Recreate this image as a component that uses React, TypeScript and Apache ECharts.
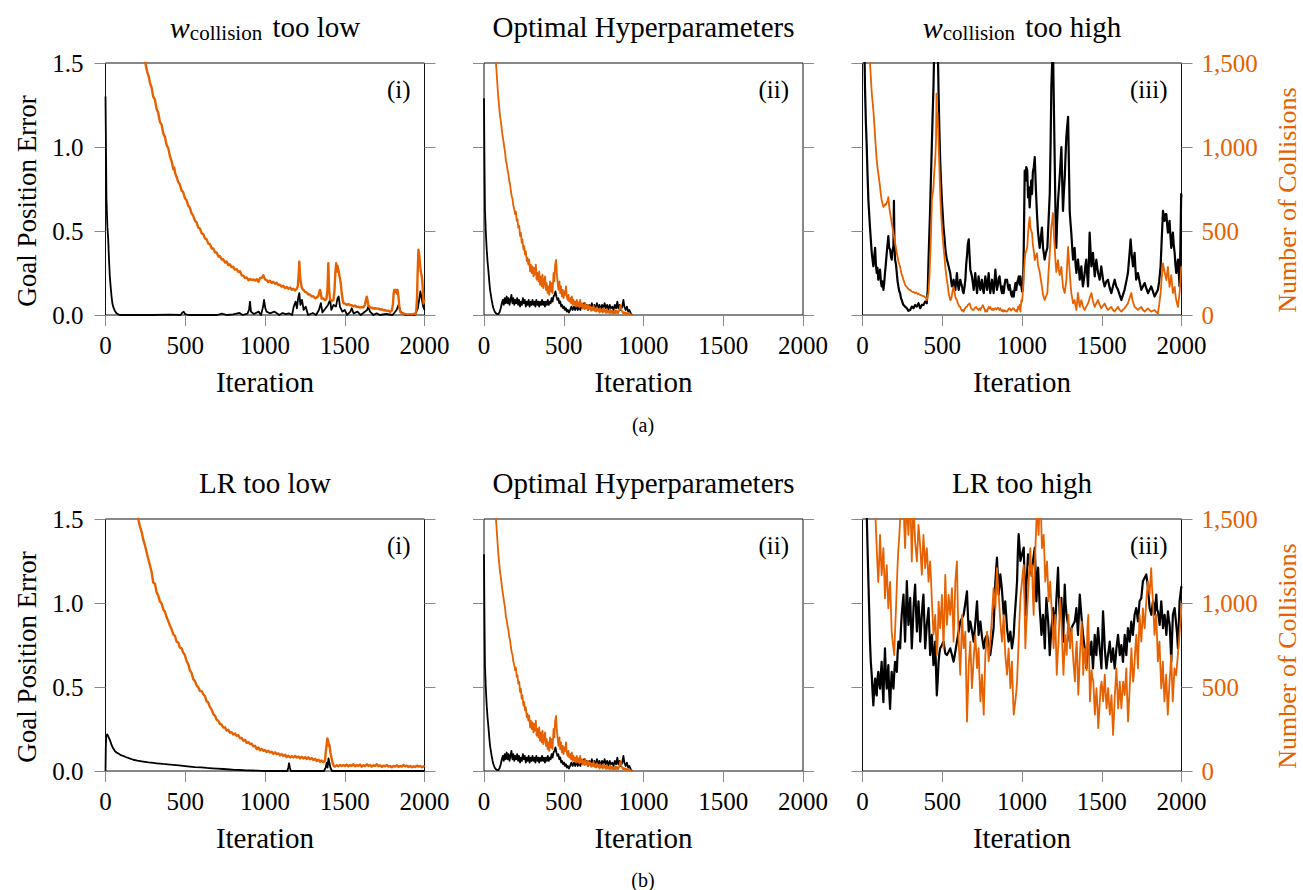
import React, { useEffect, useRef } from "react";
import * as echarts from "echarts";

const FONT = "Liberation Serif";
const ORANGE = "#e66100";

type Pt = [number, number];

// ---------- (a)(i)  w_collision too low ----------
const errLowW: Pt[] = [[0,1.30],[6,0.69],[12,0.52],[17,0.45],[22,0.33],[27,0.23],[33,0.16],[38,0.11],[43,0.07],[48,0.05],[58,0.025],[69,0.01],[80,0.004],[90,0.0],[200,0.0],[300,0.0],[400,0.002],[470,0.0],[480,0.012],[490,0.02],[500,0.005],[520,0.0],[600,0.0],[700,0.0],[730,0.008],[760,0.0],[800,0.004],[840,0.012],[860,0.0],[890,0.008],[900,0.03],[906,0.08],[912,0.02],[930,0.006],[960,0.02],[975,0.0],[988,0.05],[994,0.09],[1002,0.04],[1010,0.02],[1030,0.01],[1060,0.02],[1090,0.0],[1110,0.012],[1130,0.005],[1150,0.01],[1170,0.0],[1180,0.05],[1192,0.08],[1200,0.04],[1208,0.1],[1215,0.13],[1222,0.06],[1232,0.09],[1242,0.03],[1255,0.05],[1270,0.0],[1300,0.012],[1320,0.0],[1338,0.03],[1350,0.07],[1360,0.015],[1380,0.04],[1395,0.06],[1408,0.09],[1416,0.03],[1430,0.06],[1445,0.05],[1455,0.1],[1462,0.11],[1470,0.05],[1485,0.02],[1500,0.03],[1515,0.0],[1535,0.02],[1544,0.04],[1555,0.01],[1580,0.02],[1600,0.0],[1640,0.03],[1648,0.05],[1658,0.02],[1680,0.0],[1700,0.01],[1720,0.0],[1760,0.006],[1800,0.0],[1825,0.03],[1837,0.06],[1850,0.02],[1880,0.0],[1940,0.0],[1958,0.04],[1968,0.1],[1974,0.14],[1982,0.1],[1992,0.05],[2000,0.03]];
const collLowW: Pt[] = [[0,3200],[120,2400],[200,1800],[240,1540],[252,1490],[262,1445],[271,1420],[280,1378],[290,1350],[299,1300],[310,1282],[320,1228],[330,1205],[341,1150],[352,1132],[362,1080],[372,1062],[383,1012],[393,995],[404,945],[414,918],[425,868],[431,878],[437,842],[446,822],[456,790],[466,778],[477,740],[487,732],[498,695],[508,684],[519,650],[529,638],[540,604],[550,592],[561,560],[571,552],[582,520],[592,515],[603,486],[613,482],[624,455],[634,450],[645,425],[655,422],[666,396],[676,396],[687,372],[697,372],[708,348],[718,350],[728,330],[738,332],[750,312],[760,318],[770,296],[780,302],[790,285],[800,288],[811,270],[822,273],[833,256],[843,260],[854,236],[864,234],[875,220],[885,224],[896,207],[906,214],[917,208],[927,212],[938,205],[948,214],[959,198],[969,220],[980,222],[990,236],[1000,212],[1010,208],[1020,196],[1031,204],[1042,190],[1052,198],[1063,186],[1073,192],[1084,178],[1094,180],[1105,168],[1115,174],[1126,160],[1136,167],[1147,156],[1157,163],[1168,150],[1178,156],[1188,146],[1198,154],[1206,172],[1212,255],[1215,318],[1219,250],[1224,195],[1230,165],[1236,152],[1241,150],[1251,137],[1262,133],[1272,122],[1282,122],[1293,110],[1303,112],[1314,100],[1324,104],[1334,112],[1340,135],[1345,149],[1350,128],[1355,98],[1366,98],[1376,88],[1385,95],[1392,155],[1397,308],[1402,148],[1408,92],[1418,84],[1429,88],[1436,150],[1441,252],[1446,308],[1451,258],[1455,292],[1460,268],[1466,238],[1471,212],[1475,189],[1481,128],[1487,92],[1492,70],[1502,68],[1512,60],[1523,66],[1533,58],[1544,58],[1554,52],[1565,55],[1575,48],[1585,50],[1596,44],[1606,47],[1617,46],[1627,62],[1633,92],[1638,109],[1643,88],[1648,58],[1659,44],[1670,44],[1680,38],[1690,40],[1701,38],[1711,38],[1722,32],[1732,34],[1743,28],[1753,30],[1764,24],[1774,26],[1785,18],[1795,26],[1802,62],[1806,122],[1810,149],[1815,138],[1820,150],[1826,128],[1831,149],[1837,108],[1843,40],[1848,20],[1858,10],[1868,8],[1879,6],[1889,4],[1900,4],[1910,5],[1920,4],[1931,6],[1941,5],[1948,20],[1953,100],[1957,250],[1962,388],[1967,358],[1972,300],[1978,252],[1983,229],[1988,178],[1994,70],[2000,92]];

// ---------- (ii) optimal hyperparameters (same run in (a) and (b)) ----------
const errOpt: Pt[] = [[0,1.29],[3,0.9],[6,0.63],[11,0.5],[17,0.39],[22,0.32],[27,0.27],[33,0.2],[38,0.15],[43,0.12],[48,0.09],[54,0.06],[59,0.04],[65,0.025],[70,0.015],[75,0.01],[82,0.006],[90,0.006],[97,0.015],[105,0.04],[112,0.07],[118,0.09],[124,0.06],[130,0.1],[136,0.07],[142,0.11],[148,0.07],[154,0.1],[160,0.06],[166,0.09],[172,0.12],[178,0.07],[184,0.1],[190,0.06],[196,0.09],[202,0.07],[208,0.1],[214,0.06],[220,0.09],[226,0.05],[232,0.08],[238,0.06],[244,0.1],[250,0.07],[256,0.09],[262,0.05],[268,0.08],[274,0.06],[280,0.09],[286,0.05],[292,0.08],[298,0.06],[304,0.09],[310,0.06],[316,0.08],[322,0.05],[328,0.09],[334,0.06],[340,0.08],[346,0.05],[352,0.08],[358,0.06],[364,0.09],[370,0.06],[376,0.08],[382,0.05],[388,0.08],[394,0.06],[400,0.09],[406,0.06],[412,0.08],[418,0.07],[424,0.1],[430,0.08],[436,0.11],[442,0.12],[448,0.14],[454,0.11],[460,0.09],[466,0.1],[472,0.07],[478,0.08],[484,0.05],[490,0.06],[496,0.04],[502,0.05],[508,0.03],[514,0.04],[520,0.02],[526,0.03],[532,0.015],[540,0.03],[548,0.05],[556,0.03],[564,0.05],[572,0.03],[580,0.06],[588,0.03],[596,0.05],[604,0.03],[612,0.06],[620,0.04],[628,0.07],[636,0.04],[644,0.06],[652,0.03],[660,0.06],[668,0.04],[676,0.07],[684,0.04],[692,0.06],[700,0.03],[708,0.07],[716,0.04],[724,0.06],[732,0.03],[740,0.06],[748,0.04],[756,0.07],[764,0.04],[772,0.06],[780,0.03],[788,0.06],[796,0.04],[804,0.05],[812,0.03],[820,0.06],[828,0.04],[836,0.08],[842,0.04],[850,0.06],[858,0.03],[866,0.05],[874,0.09],[880,0.05],[888,0.03],[896,0.05],[904,0.02],[912,0.03],[920,0.01],[928,0.0]];
const collOpt: Pt[] = [[0,3000],[40,2100],[70,1600],[75,1500],[82,1400],[90,1290],[95,1240],[100,1190],[106,1150],[111,1110],[116,1070],[121,1040],[127,1000],[132,970],[137,920],[142,900],[148,860],[153,840],[158,800],[163,780],[169,735],[174,706],[179,690],[184,650],[190,630],[195,600],[200,615],[205,560],[210,570],[215,520],[221,530],[226,470],[231,490],[236,430],[241,450],[247,390],[252,410],[257,360],[262,380],[268,320],[273,340],[278,300],[283,330],[289,260],[294,300],[299,250],[304,290],[310,230],[315,280],[320,240],[325,300],[330,210],[336,250],[341,200],[346,260],[351,180],[357,230],[362,170],[367,240],[372,160],[378,200],[383,230],[388,150],[393,190],[399,130],[404,170],[409,120],[414,200],[420,140],[425,190],[430,130],[436,250],[441,200],[446,300],[452,328],[457,240],[462,190],[467,150],[473,200],[478,130],[483,170],[488,110],[494,150],[499,100],[504,140],[509,120],[514,170],[519,110],[525,90],[530,120],[535,80],[540,100],[546,70],[551,110],[556,60],[562,90],[567,60],[572,80],[577,50],[582,90],[588,55],[593,75],[598,45],[603,90],[609,50],[614,70],[619,40],[624,60],[630,35],[635,70],[640,40],[645,55],[651,30],[656,60],[661,35],[666,50],[672,25],[677,45],[682,30],[687,55],[693,25],[698,40],[703,20],[708,45],[714,25],[719,35],[724,15],[729,40],[735,20],[740,30],[745,15],[750,40],[756,20],[761,30],[766,12],[771,35],[777,15],[782,25],[787,10],[792,30],[798,12],[803,25],[808,10],[813,20],[819,8],[824,28],[829,12],[834,25],[840,10],[845,20],[850,35],[856,60],[861,30],[866,20],[872,10],[877,18],[882,8],[888,15],[893,5],[898,12],[904,4],[909,8],[914,3],[920,5],[925,2],[930,0]];

// ---------- (a)(iii) w_collision too high ----------
const errHighW: Pt[] = [[0,2.2],[10,1.7],[16,1.34],[21,1.15],[26,1.02],[31,0.85],[37,0.68],[42,0.6],[47,0.52],[52,0.45],[58,0.37],[63,0.33],[68,0.29],[74,0.35],[79,0.40],[84,0.3],[89,0.25],[94,0.28],[99,0.21],[105,0.24],[110,0.27],[115,0.2],[120,0.17],[126,0.2],[131,0.15],[136,0.19],[141,0.25],[146,0.3],[152,0.37],[157,0.42],[162,0.47],[167,0.4],[173,0.39],[178,0.35],[183,0.33],[188,0.38],[194,0.41],[197,0.68],[200,0.45],[204,0.33],[210,0.3],[215,0.25],[220,0.2],[225,0.17],[231,0.14],[236,0.13],[241,0.1],[246,0.09],[252,0.07],[257,0.06],[267,0.05],[278,0.04],[288,0.025],[299,0.03],[309,0.05],[320,0.04],[330,0.06],[341,0.05],[351,0.07],[362,0.04],[372,0.06],[382,0.06],[393,0.08],[403,0.07],[409,0.15],[414,0.33],[419,0.48],[424,0.63],[430,0.85],[435,1.02],[440,1.2],[445,1.36],[450,1.6],[456,1.8],[461,1.7],[466,1.9],[472,1.6],[477,1.32],[482,1.1],[487,0.92],[492,0.8],[498,0.68],[503,0.6],[508,0.52],[514,0.46],[519,0.4],[524,0.36],[529,0.33],[535,0.31],[540,0.29],[545,0.27],[550,0.25],[556,0.2],[561,0.17],[566,0.19],[571,0.21],[576,0.18],[582,0.15],[587,0.2],[592,0.25],[597,0.19],[603,0.15],[608,0.18],[613,0.21],[618,0.19],[624,0.17],[629,0.14],[634,0.13],[640,0.17],[645,0.21],[650,0.3],[655,0.35],[660,0.42],[666,0.45],[671,0.36],[676,0.27],[681,0.25],[686,0.23],[692,0.19],[697,0.15],[702,0.2],[707,0.25],[713,0.18],[718,0.13],[723,0.18],[728,0.23],[733,0.19],[739,0.15],[744,0.18],[749,0.21],[754,0.16],[760,0.13],[765,0.18],[770,0.23],[775,0.19],[781,0.15],[786,0.2],[791,0.25],[796,0.18],[801,0.13],[807,0.17],[812,0.21],[817,0.17],[822,0.13],[828,0.2],[833,0.27],[838,0.2],[843,0.15],[849,0.18],[854,0.22],[859,0.23],[864,0.19],[870,0.15],[875,0.13],[880,0.17],[885,0.13],[891,0.18],[896,0.21],[901,0.2],[906,0.21],[912,0.17],[917,0.15],[922,0.18],[927,0.15],[933,0.12],[938,0.11],[943,0.14],[948,0.11],[954,0.16],[959,0.19],[964,0.15],[969,0.19],[975,0.21],[980,0.23],[985,0.18],[990,0.23],[996,0.17],[1001,0.14],[1006,0.15],[1011,0.4],[1017,0.86],[1022,0.8],[1027,0.88],[1033,0.86],[1038,0.7],[1043,0.76],[1048,0.64],[1053,0.72],[1058,0.8],[1063,0.72],[1068,0.85],[1074,0.88],[1080,0.94],[1087,0.75],[1094,0.6],[1100,0.5],[1105,0.45],[1111,0.40],[1118,0.46],[1125,0.52],[1132,0.4],[1142,0.33],[1150,0.37],[1159,0.40],[1166,0.55],[1174,0.72],[1179,1.0],[1184,1.36],[1189,1.5],[1194,1.62],[1199,1.3],[1205,0.92],[1210,0.6],[1215,0.40],[1220,0.55],[1226,0.68],[1231,0.75],[1236,0.82],[1241,0.9],[1247,1.0],[1252,0.8],[1257,0.62],[1262,0.72],[1268,0.82],[1273,0.95],[1278,1.06],[1283,1.12],[1289,1.18],[1294,0.9],[1299,0.62],[1304,0.55],[1309,0.49],[1315,0.4],[1320,0.33],[1325,0.36],[1330,0.40],[1336,0.3],[1341,0.25],[1346,0.3],[1351,0.33],[1357,0.27],[1362,0.21],[1367,0.25],[1372,0.29],[1377,0.22],[1382,0.17],[1388,0.21],[1393,0.25],[1398,0.3],[1403,0.33],[1408,0.25],[1414,0.17],[1419,0.3],[1424,0.49],[1430,0.38],[1435,0.29],[1440,0.33],[1445,0.37],[1450,0.3],[1456,0.23],[1461,0.28],[1466,0.33],[1471,0.29],[1477,0.25],[1482,0.23],[1487,0.21],[1492,0.25],[1497,0.29],[1508,0.21],[1518,0.17],[1529,0.2],[1539,0.21],[1550,0.16],[1560,0.13],[1570,0.17],[1581,0.21],[1591,0.17],[1602,0.15],[1612,0.12],[1623,0.09],[1633,0.12],[1643,0.15],[1654,0.2],[1664,0.25],[1673,0.35],[1681,0.45],[1688,0.36],[1696,0.29],[1701,0.33],[1706,0.37],[1711,0.28],[1716,0.21],[1722,0.23],[1727,0.25],[1737,0.2],[1748,0.15],[1758,0.17],[1769,0.19],[1779,0.16],[1790,0.13],[1800,0.15],[1810,0.17],[1821,0.14],[1831,0.11],[1841,0.13],[1852,0.15],[1860,0.2],[1869,0.29],[1876,0.45],[1884,0.62],[1889,0.58],[1894,0.56],[1900,0.6],[1905,0.6],[1910,0.54],[1915,0.49],[1920,0.53],[1925,0.56],[1930,0.48],[1936,0.40],[1941,0.45],[1946,0.49],[1951,0.42],[1957,0.37],[1962,0.3],[1967,0.25],[1972,0.29],[1978,0.33],[1983,0.25],[1988,0.17],[1993,0.4],[1998,0.72],[2000,0.7]];
const collHighW: Pt[] = [[0,3500],[30,2000],[47,1500],[52,1420],[58,1321],[63,1270],[68,1220],[74,1140],[79,1060],[84,990],[89,923],[94,880],[99,845],[105,800],[110,762],[115,720],[120,685],[126,660],[131,643],[136,650],[141,660],[146,655],[152,667],[157,680],[162,702],[167,650],[173,607],[178,580],[183,550],[188,520],[194,488],[199,460],[204,430],[210,400],[215,369],[220,345],[225,320],[231,300],[236,286],[241,260],[246,240],[252,225],[257,208],[262,195],[267,180],[272,172],[278,167],[283,160],[288,155],[293,150],[299,149],[304,145],[309,140],[315,138],[320,137],[325,135],[330,130],[336,133],[341,131],[346,125],[351,128],[357,122],[362,120],[367,118],[372,115],[377,114],[382,113],[388,110],[393,105],[398,100],[403,89],[408,110],[414,131],[419,220],[424,327],[430,500],[435,685],[440,720],[445,762],[450,850],[456,923],[461,1050],[464,1317],[466,1119],[471,1200],[477,1024],[482,880],[487,726],[492,620],[498,524],[503,460],[508,405],[514,345],[519,286],[524,245],[529,208],[535,170],[540,131],[545,110],[550,89],[556,95],[561,120],[566,150],[571,167],[576,140],[582,110],[587,95],[592,89],[597,70],[603,60],[608,50],[613,48],[618,35],[624,25],[629,30],[634,20],[640,35],[645,42],[650,48],[655,50],[660,60],[666,65],[671,69],[676,55],[681,40],[686,35],[692,30],[697,30],[702,40],[707,45],[713,48],[718,40],[723,35],[728,30],[733,38],[739,30],[744,42],[749,50],[754,59],[760,45],[765,35],[770,20],[775,28],[781,20],[786,35],[791,48],[796,40],[801,48],[807,35],[812,30],[817,38],[822,30],[828,36],[833,40],[838,32],[843,38],[849,44],[854,36],[859,30],[864,40],[870,28],[875,22],[880,30],[885,20],[891,28],[896,24],[901,20],[906,20],[912,30],[917,38],[922,40],[927,32],[933,26],[938,34],[943,40],[948,40],[954,30],[959,24],[964,30],[969,20],[975,48],[980,36],[985,60],[990,20],[996,89],[1001,80],[1006,150],[1011,240],[1017,327],[1022,370],[1027,380],[1033,405],[1038,480],[1043,540],[1048,583],[1053,520],[1058,500],[1063,488],[1068,420],[1074,380],[1080,327],[1087,350],[1094,367],[1100,300],[1105,280],[1111,256],[1118,210],[1125,167],[1132,120],[1142,89],[1150,110],[1159,131],[1166,250],[1174,367],[1179,450],[1184,524],[1189,560],[1194,607],[1199,500],[1205,405],[1210,320],[1215,256],[1220,290],[1226,327],[1231,270],[1236,237],[1241,260],[1247,286],[1252,220],[1257,167],[1262,150],[1268,131],[1273,170],[1278,208],[1283,300],[1289,405],[1294,330],[1299,256],[1304,190],[1309,131],[1315,100],[1320,69],[1325,80],[1330,89],[1336,55],[1341,30],[1346,80],[1351,131],[1357,80],[1362,48],[1367,70],[1372,89],[1382,50],[1393,30],[1403,50],[1414,69],[1424,100],[1435,131],[1445,80],[1456,48],[1466,70],[1477,89],[1487,60],[1497,40],[1508,55],[1518,69],[1529,45],[1539,30],[1550,40],[1560,48],[1570,30],[1581,20],[1591,35],[1602,48],[1612,30],[1623,20],[1633,30],[1643,40],[1654,55],[1664,69],[1674,100],[1685,131],[1695,80],[1706,48],[1716,40],[1727,30],[1737,40],[1748,48],[1758,30],[1769,20],[1779,30],[1790,40],[1800,28],[1810,20],[1821,25],[1831,30],[1841,18],[1852,10],[1860,60],[1869,131],[1876,220],[1884,307],[1889,280],[1894,256],[1900,230],[1905,208],[1910,250],[1915,286],[1920,220],[1925,167],[1930,200],[1936,237],[1941,180],[1946,131],[1951,150],[1957,167],[1962,120],[1967,89],[1972,70],[1978,48],[1983,90],[1988,131],[1993,200],[1998,286],[2000,280]];

// ---------- (b)(i) LR too low ----------
const errLowLR: Pt[] = [[0,0.0],[2,0.15],[5,0.21],[10,0.218],[16,0.21],[22,0.195],[27,0.185],[33,0.17],[38,0.155],[43,0.145],[48,0.135],[58,0.12],[69,0.11],[79,0.105],[90,0.098],[100,0.093],[111,0.09],[130,0.082],[150,0.075],[174,0.067],[200,0.062],[236,0.056],[270,0.051],[300,0.048],[320,0.046],[360,0.042],[390,0.040],[425,0.037],[460,0.033],[500,0.029],[529,0.026],[560,0.023],[600,0.021],[634,0.018],[670,0.016],[700,0.014],[738,0.012],[780,0.009],[810,0.007],[843,0.006],[880,0.004],[920,0.003],[948,0.002],[980,0.001],[1000,0.0],[1140,0.0],[1146,0.02],[1151,0.046],[1156,0.02],[1162,0.0],[1370,0.0],[1380,0.02],[1387,0.05],[1392,0.02],[1398,0.075],[1404,0.05],[1410,0.02],[1420,0.0],[2000,0.0]];
const collLowLR: Pt[] = [[0,3400],[100,2300],[180,1700],[205,1500],[215,1460],[226,1425],[236,1380],[247,1345],[257,1305],[268,1262],[278,1226],[289,1186],[299,1122],[310,1115],[320,1065],[331,1044],[341,1010],[352,996],[362,962],[372,950],[383,915],[393,894],[404,865],[414,845],[425,814],[435,805],[446,770],[456,765],[466,735],[477,730],[487,705],[498,690],[508,655],[519,636],[529,600],[540,583],[550,547],[561,535],[571,510],[582,497],[592,477],[603,475],[613,457],[624,445],[634,415],[644,408],[655,380],[665,367],[676,338],[686,330],[697,305],[707,299],[718,279],[728,277],[738,259],[749,260],[759,241],[770,245],[780,229],[791,231],[801,217],[812,223],[822,209],[833,213],[843,195],[854,197],[864,180],[875,185],[885,167],[896,173],[906,160],[917,163],[927,147],[938,150],[948,130],[959,140],[969,123],[980,131],[990,120],[1000,125],[1010,113],[1021,121],[1031,110],[1042,115],[1052,103],[1063,111],[1073,100],[1084,105],[1094,93],[1105,101],[1115,90],[1126,97],[1136,83],[1147,91],[1157,80],[1168,89],[1178,81],[1189,90],[1199,80],[1210,87],[1220,75],[1231,85],[1241,74],[1252,83],[1262,72],[1272,81],[1282,70],[1293,77],[1303,65],[1314,73],[1324,60],[1335,67],[1345,55],[1356,63],[1366,52],[1376,62],[1382,120],[1387,160],[1391,194],[1396,180],[1400,150],[1404,155],[1410,110],[1418,75],[1425,45],[1432,30],[1439,26],[1450,34],[1460,28],[1471,36],[1481,30],[1492,36],[1502,30],[1512,38],[1523,28],[1533,36],[1544,30],[1554,40],[1565,28],[1575,36],[1585,30],[1596,38],[1606,26],[1617,34],[1627,28],[1638,40],[1648,30],[1659,36],[1669,26],[1680,34],[1690,30],[1701,40],[1711,28],[1722,34],[1732,24],[1743,32],[1753,28],[1764,36],[1774,26],[1785,30],[1795,22],[1806,30],[1816,26],[1827,34],[1837,24],[1848,30],[1858,26],[1869,36],[1879,28],[1890,32],[1900,24],[1911,30],[1921,22],[1932,28],[1942,24],[1953,32],[1963,26],[1974,30],[1984,22],[1995,28],[2000,24]];

// ---------- (b)(iii) LR too high ----------
const errHighLR: Pt[] = [[0,2.5],[15,1.9],[26,1.55],[31,1.35],[37,1.13],[42,0.95],[47,0.77],[52,0.65],[58,0.57],[63,0.47],[68,0.39],[74,0.5],[79,0.55],[84,0.47],[89,0.45],[94,0.55],[99,0.59],[105,0.52],[110,0.49],[115,0.58],[120,0.65],[126,0.5],[131,0.41],[136,0.6],[141,0.73],[146,0.58],[152,0.49],[157,0.57],[162,0.63],[167,0.48],[173,0.37],[178,0.5],[183,0.59],[188,0.53],[194,0.49],[199,0.58],[204,0.65],[210,0.62],[215,0.59],[220,0.7],[225,0.77],[231,0.75],[236,0.73],[241,0.85],[246,0.93],[252,1.0],[257,1.05],[262,0.9],[267,0.77],[273,0.95],[278,1.13],[283,1.0],[288,0.87],[294,0.95],[299,1.03],[304,0.88],[309,0.73],[315,0.85],[320,0.97],[325,1.05],[330,1.11],[336,0.95],[341,0.83],[346,0.92],[351,1.01],[357,0.9],[362,0.77],[367,0.85],[372,0.93],[377,1.0],[382,1.05],[388,0.88],[393,0.73],[398,0.8],[403,0.87],[409,0.92],[414,0.97],[419,0.83],[424,0.69],[430,0.75],[435,0.81],[440,0.72],[445,0.63],[451,0.7],[456,0.77],[461,0.6],[466,0.45],[472,0.55],[477,0.65],[482,0.7],[487,0.73],[498,0.75],[508,0.77],[519,0.7],[529,0.69],[540,0.71],[550,0.73],[561,0.69],[571,0.65],[582,0.71],[592,0.77],[603,0.83],[613,0.89],[624,0.91],[634,0.93],[645,1.0],[655,1.07],[660,0.95],[666,0.83],[671,0.86],[676,0.89],[687,0.83],[697,0.77],[708,0.89],[718,1.01],[723,0.9],[728,0.81],[733,0.85],[739,0.89],[749,0.8],[760,0.73],[770,0.79],[781,0.81],[791,0.75],[801,0.69],[812,0.77],[822,0.85],[828,1.0],[833,1.13],[838,1.2],[843,1.27],[849,1.15],[854,1.05],[859,1.11],[864,1.17],[870,1.12],[875,1.07],[880,1.0],[885,0.93],[890,0.97],[895,1.01],[901,0.93],[906,0.85],[911,0.81],[916,0.77],[922,0.8],[927,0.83],[932,0.78],[937,0.73],[943,0.77],[948,0.81],[953,0.9],[958,0.97],[964,1.05],[969,1.13],[974,1.3],[979,1.41],[985,1.33],[990,1.25],[1000,1.29],[1011,1.33],[1017,1.1],[1022,0.93],[1027,1.1],[1038,1.29],[1048,1.23],[1059,1.17],[1069,1.25],[1080,1.33],[1085,1.2],[1090,1.01],[1095,1.1],[1101,1.21],[1106,1.1],[1111,0.97],[1116,0.9],[1122,0.81],[1127,0.87],[1132,0.93],[1138,0.83],[1143,0.73],[1148,0.9],[1153,1.03],[1159,0.95],[1164,0.89],[1169,0.8],[1174,0.69],[1179,0.77],[1184,0.85],[1190,0.9],[1195,0.97],[1200,0.9],[1205,0.83],[1211,0.93],[1216,1.03],[1221,1.12],[1226,1.21],[1231,1.05],[1237,0.93],[1242,0.98],[1247,1.03],[1252,0.9],[1258,0.77],[1263,0.95],[1268,1.11],[1273,1.0],[1279,0.93],[1284,0.9],[1289,0.87],[1294,0.82],[1299,0.77],[1305,0.81],[1310,0.85],[1320,0.87],[1331,0.89],[1336,0.93],[1341,0.97],[1346,0.89],[1351,0.81],[1357,0.93],[1362,1.05],[1367,0.99],[1372,0.93],[1377,0.87],[1383,0.81],[1388,0.77],[1393,0.73],[1398,0.67],[1404,0.61],[1409,0.69],[1414,0.77],[1420,0.73],[1425,0.69],[1430,0.73],[1435,0.77],[1440,0.69],[1445,0.61],[1451,0.71],[1456,0.81],[1461,0.75],[1466,0.69],[1471,0.77],[1477,0.85],[1482,0.79],[1487,0.73],[1493,0.67],[1498,0.61],[1503,0.78],[1508,0.95],[1514,0.84],[1519,0.73],[1524,0.67],[1529,0.61],[1534,0.65],[1539,0.69],[1545,0.73],[1550,0.77],[1555,0.71],[1560,0.65],[1566,0.69],[1571,0.73],[1576,0.67],[1581,0.61],[1587,0.67],[1592,0.73],[1597,0.77],[1602,0.81],[1608,0.75],[1613,0.69],[1618,0.72],[1623,0.75],[1628,0.7],[1633,0.65],[1639,0.73],[1644,0.81],[1649,0.75],[1654,0.69],[1659,0.77],[1664,0.85],[1670,0.81],[1675,0.77],[1680,0.83],[1685,0.89],[1690,0.85],[1695,0.81],[1701,0.87],[1706,0.93],[1711,0.95],[1716,0.97],[1722,0.93],[1727,0.89],[1732,0.95],[1737,1.01],[1743,1.02],[1748,1.03],[1753,1.08],[1758,1.13],[1764,1.14],[1769,1.15],[1774,1.16],[1779,1.17],[1785,1.13],[1790,1.09],[1795,1.03],[1800,0.97],[1806,0.95],[1811,0.93],[1816,0.97],[1821,1.01],[1827,0.98],[1832,0.93],[1837,0.99],[1842,1.05],[1847,0.96],[1852,0.95],[1858,0.91],[1863,0.87],[1868,0.94],[1873,1.01],[1879,0.93],[1884,0.85],[1889,0.89],[1894,0.93],[1900,0.87],[1905,0.81],[1910,0.88],[1915,0.95],[1921,0.9],[1926,0.87],[1931,0.76],[1936,0.65],[1941,0.8],[1946,0.93],[1951,0.95],[1957,0.97],[1962,0.92],[1967,0.87],[1972,0.82],[1978,0.73],[1983,0.87],[1988,1.01],[1993,1.05],[1998,1.09],[2000,1.1]];
const collHighLR: Pt[] = [[0,3500],[60,2200],[79,1600],[84,1450],[89,1327],[94,1220],[99,1125],[105,1260],[110,1405],[115,1280],[120,1165],[126,1250],[131,1327],[136,1180],[141,1028],[146,1130],[152,1226],[157,1090],[162,968],[167,1050],[173,1125],[178,980],[183,829],[188,780],[194,732],[199,690],[204,830],[210,968],[215,1100],[220,1226],[225,1320],[231,1405],[236,1500],[241,1600],[246,1650],[252,1580],[257,1620],[262,1450],[267,1327],[273,1500],[278,1620],[283,1500],[288,1405],[294,1560],[299,1640],[304,1450],[309,1247],[315,1450],[320,1600],[325,1480],[330,1365],[336,1300],[341,1247],[346,1350],[351,1465],[357,1400],[362,1327],[367,1250],[372,1168],[377,1290],[382,1405],[388,1300],[393,1207],[398,1270],[403,1327],[409,1230],[414,1127],[419,1190],[424,1247],[430,1130],[435,1010],[440,910],[445,812],[451,870],[456,929],[461,810],[466,690],[472,790],[477,1008],[482,930],[487,850],[493,950],[498,1048],[503,890],[508,731],[514,950],[519,1168],[524,1020],[529,870],[535,950],[540,1048],[545,990],[550,929],[556,1010],[561,1088],[566,930],[571,770],[577,950],[582,1127],[587,1190],[592,1247],[597,1000],[603,770],[608,670],[613,573],[619,750],[624,929],[629,830],[634,731],[640,780],[645,829],[650,560],[655,294],[661,460],[666,632],[671,700],[676,770],[681,630],[686,493],[692,580],[697,672],[702,740],[707,810],[713,710],[718,612],[723,670],[728,731],[733,570],[739,414],[744,490],[749,573],[755,450],[760,335],[765,510],[770,691],[776,760],[781,830],[786,740],[791,652],[796,710],[801,770],[807,850],[812,929],[817,1010],[822,1088],[827,1030],[833,968],[838,1090],[843,1207],[848,1130],[854,1048],[859,970],[864,890],[869,830],[875,770],[880,850],[885,929],[890,810],[895,691],[901,630],[906,573],[911,650],[916,730],[922,610],[927,493],[932,570],[937,651],[942,490],[948,335],[953,375],[958,414],[964,470],[969,533],[974,650],[979,770],[984,900],[990,1028],[995,1080],[1000,1127],[1006,1190],[1011,1226],[1016,1000],[1021,731],[1026,850],[1031,929],[1037,1040],[1042,1127],[1047,1227],[1052,1327],[1058,1160],[1063,1226],[1068,1050],[1073,929],[1078,1130],[1084,1327],[1089,1450],[1094,1600],[1099,1500],[1104,1405],[1109,1550],[1115,1650],[1120,1500],[1125,1327],[1130,1370],[1136,1405],[1141,1270],[1146,1127],[1151,1190],[1157,1247],[1162,1130],[1167,1010],[1172,1070],[1177,1127],[1182,1030],[1188,929],[1193,830],[1198,731],[1203,830],[1208,929],[1213,750],[1218,573],[1223,670],[1229,770],[1234,900],[1239,1028],[1244,940],[1249,850],[1254,710],[1260,573],[1265,690],[1270,810],[1275,750],[1280,691],[1285,810],[1291,929],[1296,830],[1301,730],[1306,810],[1311,850],[1317,740],[1322,652],[1327,590],[1332,533],[1337,700],[1343,770],[1348,620],[1353,454],[1358,560],[1363,690],[1369,790],[1374,889],[1379,730],[1384,573],[1389,690],[1395,730],[1400,640],[1405,600],[1410,850],[1416,929],[1421,660],[1426,414],[1431,500],[1436,600],[1441,560],[1447,533],[1452,434],[1457,335],[1462,420],[1467,493],[1473,380],[1478,255],[1483,330],[1488,414],[1493,500],[1499,532],[1504,470],[1509,414],[1514,500],[1519,573],[1524,470],[1530,373],[1535,430],[1540,493],[1545,410],[1551,335],[1556,390],[1561,452],[1566,330],[1571,214],[1577,330],[1582,452],[1587,530],[1592,611],[1597,500],[1603,373],[1608,440],[1613,532],[1618,450],[1623,373],[1628,450],[1634,532],[1639,490],[1644,452],[1649,530],[1654,611],[1659,450],[1665,295],[1670,390],[1675,492],[1680,600],[1686,730],[1691,620],[1696,532],[1701,570],[1706,651],[1711,740],[1717,810],[1722,700],[1727,611],[1732,770],[1737,929],[1743,850],[1748,770],[1753,860],[1758,968],[1763,900],[1769,849],[1774,930],[1779,1008],[1784,1070],[1789,1127],[1795,1087],[1800,1048],[1805,1130],[1810,1207],[1815,1100],[1821,1008],[1826,910],[1831,810],[1836,880],[1841,929],[1847,790],[1852,652],[1857,720],[1862,770],[1867,640],[1873,492],[1878,560],[1883,651],[1888,530],[1893,414],[1899,500],[1904,573],[1909,460],[1914,335],[1919,420],[1925,532],[1930,600],[1935,690],[1940,560],[1945,414],[1951,520],[1956,611],[1961,590],[1966,571],[1971,620],[1977,690],[1982,750],[1987,810],[1992,870],[1997,929],[2000,1000]];

// ---------- axes / labels ----------
const xTicks = [0, 500, 1000, 1500, 2000];
const errTicks = [0, 0.5, 1.0, 1.5];
const collTicks = [0, 500, 1000, 1500];
const panelTags = ["(i)", "(ii)", "(iii)"];
const rowTitlesA = ["{w|w}{s|collision} too low", "Optimal Hyperparameters", "{w|w}{s|collision} too high"];
const rowTitlesB = ["LR too low", "Optimal Hyperparameters", "LR too high"];
const errName = "Goal Position Error";
const collName = "Number of Collisions";
const xName = "Iteration";

const panels = [
  { err: errLowW, coll: collLowW },
  { err: errOpt, coll: collOpt },
  { err: errHighW, coll: collHighW },
  { err: errLowLR, coll: collLowLR },
  { err: errOpt, coll: collOpt },
  { err: errHighLR, coll: collHighLR },
];

function fmtComma(v: number) {
  const s = String(Math.round(v));
  return s.length > 3 ? s.slice(0, s.length - 3) + "," + s.slice(s.length - 3) : s;
}

function txt(text: string, x: number, y: number, size: number, fill: string, extra: any = {}, styleExtra: any = {}) {
  return {
    type: "text", x, y, ...extra,
    style: {
      text, fill, align: "center", verticalAlign: "middle",
      font: `${size}px ${FONT}`, fontSize: size, fontFamily: FONT,
      ...styleExtra,
    },
  };
}

export default function App() {
  const ref = useRef<HTMLDivElement>(null);
  useEffect(() => {
    const chart = echarts.init(ref.current!, null, { renderer: "svg" });
    const lefts = [105.5, 484, 862.5];
    const tops = [63, 519];
    const W = 319;
    const H = 252;
    const TICK = "#8a8a8a";
    const grids: any[] = [];
    const xAxes: any[] = [];
    const yAxes: any[] = [];
    const series: any[] = [];
    const graphics: any[] = [];

    panels.forEach((p, i) => {
      const row = Math.floor(i / 3);
      const col = i % 3;
      grids.push({
        left: lefts[col], top: tops[row], width: W, height: H,
        show: true, borderColor: "#111", borderWidth: 1, backgroundColor: "transparent",
        containLabel: false,
      });
      xAxes.push({
        type: "value", gridIndex: i, min: xTicks[0], max: xTicks[xTicks.length - 1], interval: 500,
        axisLine: { show: false },
        axisTick: { show: true, inside: false, length: 11, lineStyle: { color: TICK, width: 1 } },
        axisLabel: { show: true, color: "#000", fontFamily: FONT, fontSize: 25, margin: 18, showMinLabel: true, showMaxLabel: true, formatter: (v: number) => String(v) },
        splitLine: { show: false },
      });
      yAxes.push({
        type: "value", gridIndex: i, position: "left", min: errTicks[0], max: errTicks[errTicks.length - 1], interval: 0.5,
        axisLine: { show: false },
        axisTick: { show: true, inside: false, length: 11, lineStyle: { color: TICK, width: 1 } },
        axisLabel: { show: col === 0, color: "#000", fontFamily: FONT, fontSize: 25, margin: 22, formatter: (v: number) => v.toFixed(1) },
        splitLine: { show: false },
      });
      yAxes.push({
        type: "value", gridIndex: i, position: "right", min: collTicks[0], max: collTicks[collTicks.length - 1], interval: 500,
        axisLine: { show: false },
        axisTick: { show: true, inside: false, length: 11, lineStyle: { color: TICK, width: 1 } },
        axisLabel: { show: col === 2, color: ORANGE, fontFamily: FONT, fontSize: 25, margin: 20, formatter: (v: number) => fmtComma(v) },
        splitLine: { show: false },
      });
      series.push({
        type: "line", xAxisIndex: i, yAxisIndex: 2 * i, data: p.err, showSymbol: false, symbol: "none",
        clip: true, silent: true, lineStyle: { color: "#000", width: col === 2 ? 2.2 : 1.8, join: "round" }, z: 2,
      });
      series.push({
        type: "line", xAxisIndex: i, yAxisIndex: 2 * i + 1, data: p.coll, showSymbol: false, symbol: "none",
        clip: true, silent: true, lineStyle: { color: ORANGE, width: col === 0 ? 2.4 : 1.8, join: "round" }, z: 3,
      });

      const cx = lefts[col] + W / 2;
      graphics.push(txt(panelTags[col], lefts[col] + W - 14, tops[row] + 26, 25, "#000", { z: 10 }, { align: "right" }));
      graphics.push(txt(xName, cx, tops[row] + H + 67, 29, "#000"));
      const title = row === 0 ? rowTitlesA[col] : rowTitlesB[col];
      graphics.push(txt(title, cx, tops[row] - 36, 29, "#000", {}, {
        rich: {
          w: { font: `italic 30px ${FONT}`, fontFamily: FONT, fontSize: 30, fontStyle: "italic", fill: "#000" },
          s: { font: `21px ${FONT}`, fontFamily: FONT, fontSize: 21, fill: "#000", padding: [12, 3, 0, 0] },
        },
      }));
    });

    [0, 1].forEach((row) => {
      const cy = tops[row] + H / 2 + 12;
      graphics.push(txt(errName, 27, cy, 27, "#000", { rotation: Math.PI / 2 }));
      graphics.push(txt(collName, 1287, cy - 1, 26, ORANGE, { rotation: Math.PI / 2 }));
    });
    graphics.push(txt("(a)", 643, 425, 20, "#000"));
    graphics.push(txt("(b)", 643, 880, 20, "#000"));

    chart.setOption({
      animation: false,
      backgroundColor: "#fff",
      grid: grids,
      xAxis: xAxes,
      yAxis: yAxes,
      series,
      graphic: graphics,
    });
    return () => chart.dispose();
  }, []);
  return (
    <div
      ref={ref}
      style={{ position: "absolute", left: 0, top: 0, width: 1303, height: 890 }}
    />
  );
}
